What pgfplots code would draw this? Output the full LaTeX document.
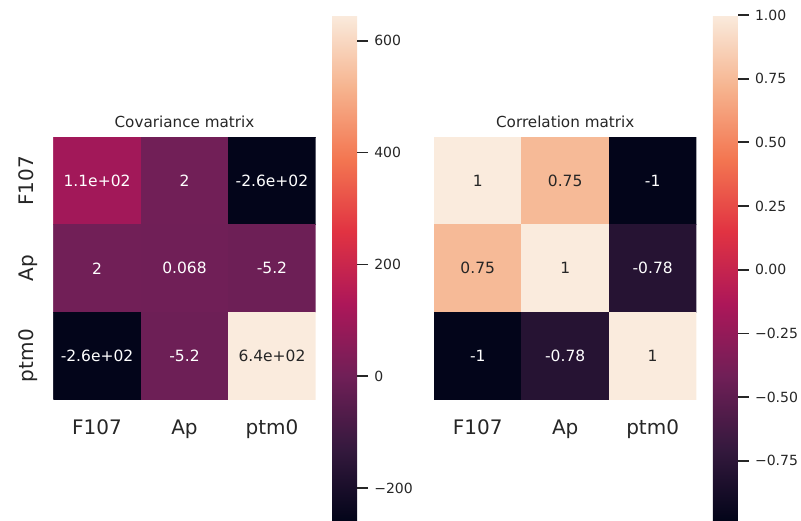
\documentclass[border=0pt]{standalone}
\usepackage{pgfplots}
\pgfplotsset{compat=1.18}
\usepackage{fontspec}
\setmainfont{DejaVu Sans}
\definecolor{txt}{RGB}{38,38,38}
\pgfplotsset{
  colormap={rocket}{rgb255(0)=(3,5,26) rgb255(1)=(53,25,62) rgb255(2)=(112,31,87) rgb255(3)=(173,23,89) rgb255(4)=(225,51,66) rgb255(5)=(243,118,81) rgb255(6)=(246,180,143) rgb255(7)=(250,235,221)},
  heat/.style={
    scale only axis, width=262.4pt, height=262pt,
    anchor=south west,
    xmin=-0.5, xmax=2.5, ymin=-0.5, ymax=2.5, y dir=reverse,
    axis line style={draw=none}, major tick length=0pt,
    xtick={0,1,2}, ytick={0,1,2},
    xticklabels={F107,Ap,ptm0}, yticklabels={F107,Ap,ptm0},
    ticklabel style={font=\fontsize{20}{24}\selectfont, text=txt, inner sep=0pt},
    xticklabel style={anchor=base, yshift=-35pt},
    yticklabel style={xshift=-20pt, rotate=90, anchor=base},
    title style={font=\fontsize{15.2}{18}\selectfont, text=txt, anchor=base, at={(0.5,1)}, yshift=3.8pt, inner sep=0pt},
    colormap name=rocket,
    colorbar/width=25pt,
    colorbar,
    colorbar style={
      scale only axis, width=25pt, height=505pt,
      at={(parent axis.north east)}, anchor=north west, xshift=7.9pt, yshift=122.3pt,
      axis line style={draw=none},
      ytick pos=right, yticklabel pos=right,
      tick align=outside, major tick length=11pt,
      major tick style={draw=txt, line width=1.8pt},
      every major tick/.append style={draw=txt, line width=1.8pt},
      yticklabel style={font=\fontsize{14}{17}\selectfont, text=txt, anchor=west, inner sep=0pt, xshift=6pt},
    },
  },
  lbl/.style={only marks, mark=none, nodes near coords, point meta=explicit symbolic,
    every node near coord/.append style={anchor=center, inner sep=0pt, font=\fontsize{15.5}{18}\selectfont, text=#1}},
}
\begin{document}
\begin{tikzpicture}
\path[use as bounding box] (0pt,0pt) rectangle (801pt,520pt);
\begin{axis}[heat, at={(53.3pt,120.7pt)}, title={Covariance matrix},
  point meta min=-257, point meta max=646,
  colorbar style={ytick={-200,0,200,400,600}, yticklabels={−200,0,200,400,600}}]
\addplot[matrix plot*, mesh/cols=3, point meta=explicit] table[meta=c] {
x y c
0 0 106
1 0 2
2 0 -257
0 1 2
1 1 0.068
2 1 -5.2
0 2 -257
1 2 -5.2
2 2 646
};
\addplot[lbl=white] table[meta=t] {
x y t
0 0 1.1e+02
1 0 2
2 0 -2.6e+02
0 1 2
1 1 0.068
2 1 -5.2
0 2 -2.6e+02
1 2 -5.2
};
\addplot[lbl=txt] table[meta=t] {
x y t
2 2 6.4e+02
};
\end{axis}
\begin{axis}[heat, at={(434pt,120.7pt)}, title={Correlation matrix},
  yticklabels={},
  point meta min=-0.982, point meta max=1,
  colorbar style={ytick={-0.75,-0.5,-0.25,0,0.25,0.5,0.75,1}, yticklabels={−0.75,−0.50,−0.25,0.00,0.25,0.50,0.75,1.00}}]
\addplot[matrix plot*, mesh/cols=3, point meta=explicit] table[meta=c] {
x y c
0 0 1
1 0 0.745
2 0 -0.982
0 1 0.745
1 1 1
2 1 -0.785
0 2 -0.982
1 2 -0.785
2 2 1
};
\addplot[lbl=white] table[meta=t] {
x y t
2 0 -1
2 1 -0.78
0 2 -1
1 2 -0.78
};
\addplot[lbl=txt] table[meta=t] {
x y t
0 0 1
1 0 0.75
0 1 0.75
1 1 1
2 2 1
};
\end{axis}
\end{tikzpicture}
\end{document}
